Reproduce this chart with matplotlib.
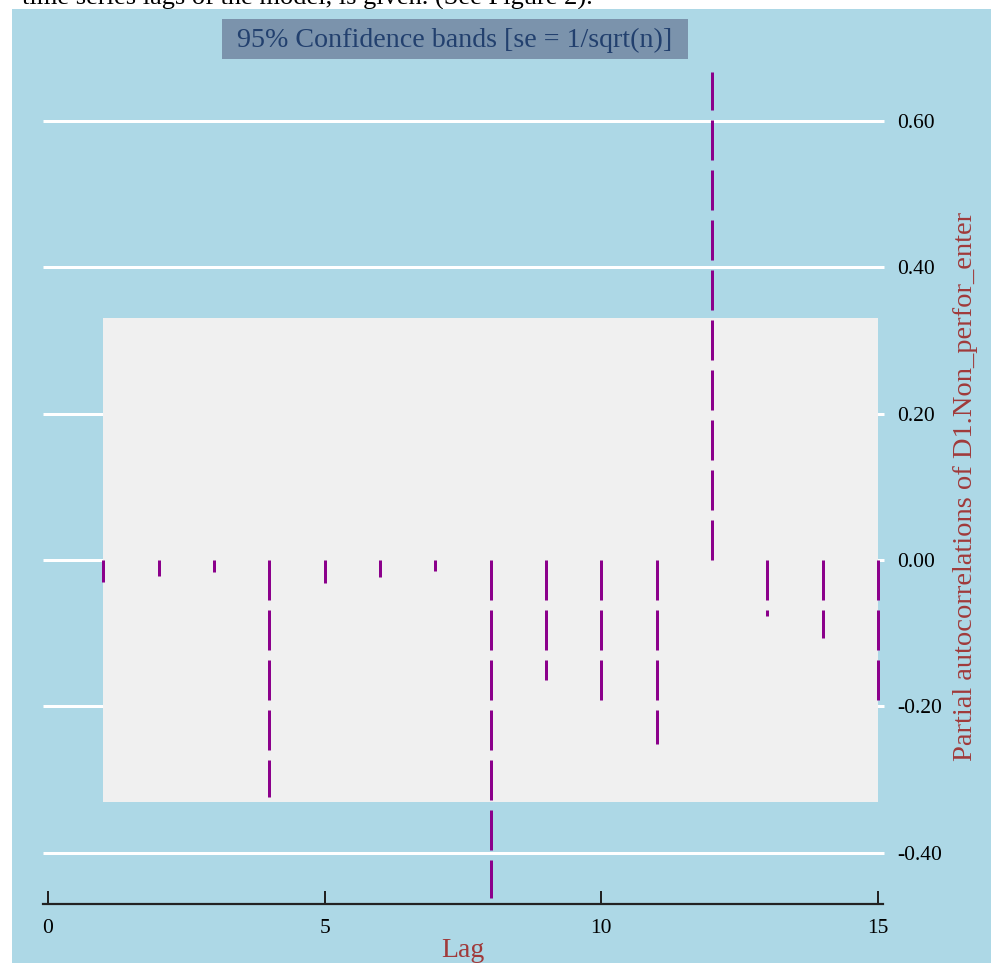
import matplotlib
matplotlib.use("Agg")
import matplotlib.pyplot as plt
from matplotlib.patches import Rectangle
from matplotlib.lines import Line2D

# ---- data ----
lags = [1, 2, 3, 4, 5, 6, 7, 8, 9, 10, 11, 12, 13, 14, 15]
pacf = [-0.030, -0.022, -0.017, -0.324, -0.031, -0.023, -0.015,
        -0.462, -0.164, -0.194, -0.251, 0.667, -0.076, -0.107, -0.193]
conf_band = 0.3306
yticks = [-0.40, -0.20, 0.00, 0.20, 0.40, 0.60]
xticks = [0, 5, 10, 15]
title_text = "95% Confidence bands [se = 1/sqrt(n)]"
ylabel_text = "Partial autocorrelations of D1.Non_perfor_enter"
xlabel_text = "Lag"
top_text = "time series lags of the model, is given. (See Figure 2)."

plt.rcParams['lines.scale_dashes'] = False
W, H = 995, 963
fig = plt.figure(figsize=(W / 100, H / 100), dpi=100)
fig.patch.set_facecolor("white")
SERIF = ["Liberation Serif", "DejaVu Serif"]
PX = 0.72  # points per pixel


def fx(px):
    return px / W


def fy(py):
    return 1 - py / H

# document text partially cut at top
fig.text(fx(22), fy(5), top_text, fontsize=19, family=SERIF, color="black",
         ha="left", va="baseline", zorder=0)

# light-blue background
fig.patches.append(Rectangle((fx(12), 0), fx(991) - fx(12), fy(9), transform=fig.transFigure,
                             facecolor="#ADD8E6", edgecolor="none", zorder=1))

# axes
x0, x1 = 48, 878
ybot, ytop = 904, 9
zero_px, ppu = 560, 732.0
ax = fig.add_axes([fx(x0), fy(ybot), fx(x1) - fx(x0), (ybot - ytop) / H])
ax.set_facecolor("none")
ax.set_zorder(2)
ax.set_xlim(0, 15)
ax.set_ylim(-(ybot - zero_px) / ppu, (zero_px - ytop) / ppu)
ppx = (x1 - x0) / 15.0

# gridlines
ax.hlines(yticks, (43 - x0) / ppx, (884 - x0) / ppx, colors="white", lw=3 * PX,
          clip_on=False, zorder=1)

# confidence band
ax.add_patch(Rectangle((1, -conf_band), 14, 2 * conf_band, facecolor="#F0F0F0",
                       edgecolor="none", zorder=2))

# spikes
for lg, v in zip(lags, pacf):
    ax.add_line(Line2D([lg, lg], [0, v], color="#8B008B", lw=3 * PX,
                       linestyle=(0, (40 * PX, 10 * PX)), solid_capstyle="butt",
                       dash_capstyle="butt", clip_on=False, zorder=3))

# x axis line
ylo = ax.get_ylim()[0]
ax.add_line(Line2D([(43 - x0) / ppx, (883 - x0) / ppx], [ylo, ylo], color="#222222",
                   lw=2.2 * PX, clip_on=False, zorder=4))
for s in ax.spines.values():
    s.set_visible(False)
ax.set_xticks(xticks)
ax.set_xticklabels([str(t) for t in xticks], family=SERIF, fontsize=15.5)
ax.tick_params(axis="x", direction="in", length=13 * PX, width=2 * PX, color="#222222",
               pad=11, labelcolor="black")

ax.yaxis.tick_right()
ax.set_yticks(yticks)
ax.set_yticklabels([f"{t:.2f}" for t in yticks], family=SERIF, fontsize=15.5)
ax.tick_params(axis="y", length=0, pad=19 * PX, labelcolor="black")

# labels
fig.text(fx(966), fy(486), ylabel_text, rotation=90, ha="center", va="center",
         family=SERIF, fontsize=20.5, color="#A03A3A")
fig.text(fx(463), fy(950), xlabel_text, ha="center", va="center",
         family=SERIF, fontsize=20, color="#A03A3A")

# title box
fig.patches.append(Rectangle((fx(222), fy(59)), fx(688) - fx(222), (59 - 19) / H,
                             transform=fig.transFigure, facecolor="#7B93AC",
                             edgecolor="none", zorder=3))
fig.text(fx(455), fy(40), title_text, ha="center", va="center", family=SERIF,
         fontsize=20.2, color="#22406E", zorder=4)

fig.savefig("out.png", dpi=100)
